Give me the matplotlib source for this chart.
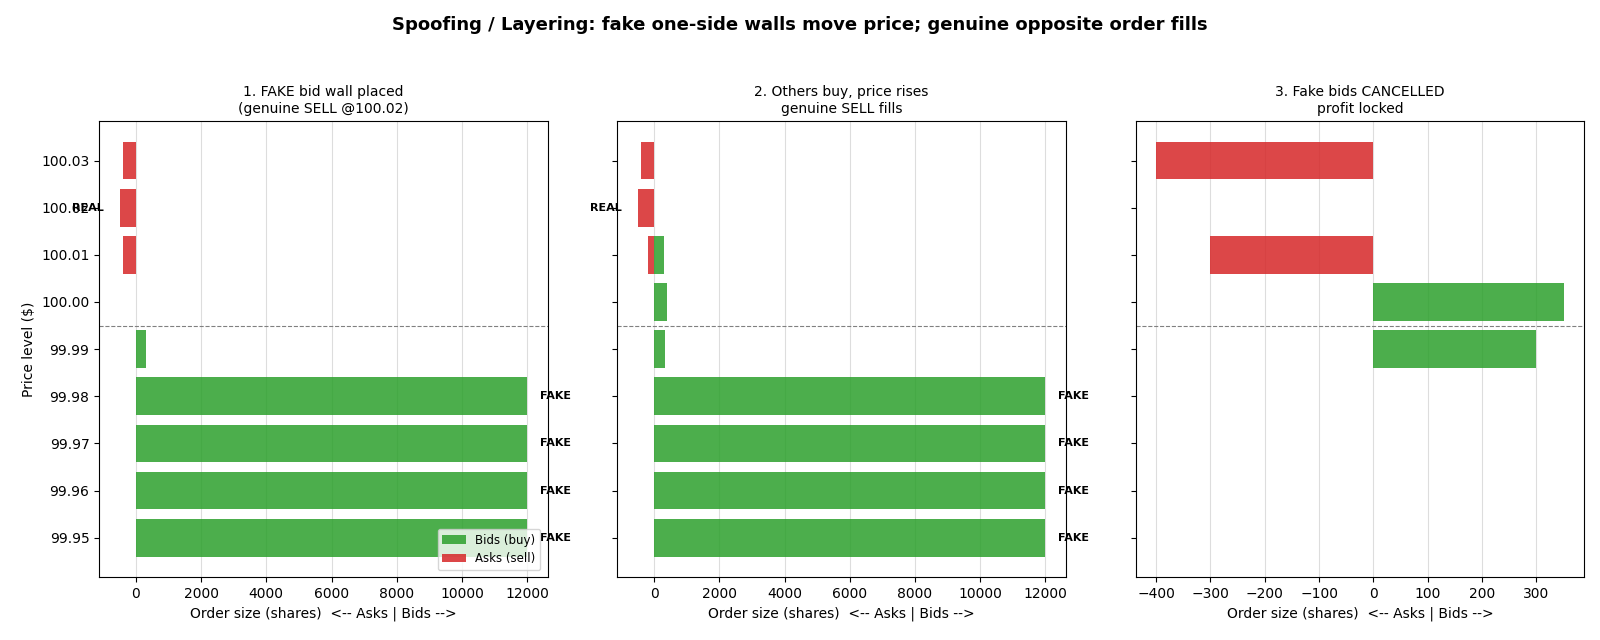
import matplotlib
matplotlib.use("Agg")
import matplotlib.pyplot as plt

GREEN = "#2ca02c"
RED = "#d62728"

price_ticks = [99.95, 99.96, 99.97, 99.98, 99.99, 100.00, 100.01, 100.02, 100.03]

# panel 1: fake bid wall placed
p1_bid_prices = [99.99, 99.98, 99.97, 99.96, 99.95]
p1_bid_sizes = [300, 12000, 12000, 12000, 12000]
p1_ask_prices = [100.01, 100.02, 100.03]
p1_ask_sizes = [400, 500, 400]

# panel 2: others buy, price rises
p2_bid_prices = [100.01, 100.00, 99.99, 99.98, 99.97, 99.96, 99.95]
p2_bid_sizes = [300, 400, 320, 12000, 12000, 12000, 12000]
p2_ask_prices = [100.01, 100.02, 100.03]
p2_ask_sizes = [200, 500, 400]

# panel 3: fake bids cancelled
p3_bid_prices = [100.00, 99.99]
p3_bid_sizes = [350, 300]
p3_ask_prices = [100.01, 100.03]
p3_ask_sizes = [300, 400]

fake_prices = [99.98, 99.97, 99.96, 99.95]
real_price = 100.02

titles = ["1. FAKE bid wall placed\n(genuine SELL @100.02)",
          "2. Others buy, price rises\ngenuine SELL fills",
          "3. Fake bids CANCELLED\nprofit locked"]

panels = [
    (p1_bid_prices, p1_bid_sizes, p1_ask_prices, p1_ask_sizes, True),
    (p2_bid_prices, p2_bid_sizes, p2_ask_prices, p2_ask_sizes, True),
    (p3_bid_prices, p3_bid_sizes, p3_ask_prices, p3_ask_sizes, False),
]

fig, axes = plt.subplots(1, 3, figsize=(16, 6.4), dpi=100, sharey=True)
fig.subplots_adjust(left=0.062, right=0.99, top=0.811, bottom=0.098, wspace=0.156)

for i, (ax, (bp, bs, ap, asz, labels)) in enumerate(zip(axes, panels)):
    ax.barh(bp, bs, height=0.008, color=GREEN, alpha=0.85, label="Bids (buy)")
    ax.barh(ap, [-a for a in asz], height=0.008, color=RED, alpha=0.85, label="Asks (sell)")
    ax.axhline(99.995, color="gray", linestyle="--", linewidth=0.8)
    if labels:
        for p in fake_prices:
            ax.text(12400, p, "FAKE", ha="left", va="center", fontsize=8, fontweight="bold")
        ax.text(-1000, real_price, "REAL", ha="right", va="center", fontsize=8, fontweight="bold")
    ax.set_title(titles[i], fontsize=10)
    ax.set_xlabel("Order size (shares)  <-- Asks | Bids -->", fontsize=10)
    ax.grid(axis="x", color="#dddddd", linewidth=0.8)
    ax.set_axisbelow(True)

axes[0].set_yticks(price_ticks)
axes[0].set_yticklabels([f"{p:.2f}" for p in price_ticks])
axes[0].set_ylabel("Price level ($)", fontsize=10)
axes[0].legend(loc="lower right", fontsize=8.5, borderaxespad=0.6)

fig.suptitle("Spoofing / Layering: fake one-side walls move price; genuine opposite order fills",
             fontsize=13, fontweight="bold", y=0.975)

fig.savefig("out.png", dpi=100)
